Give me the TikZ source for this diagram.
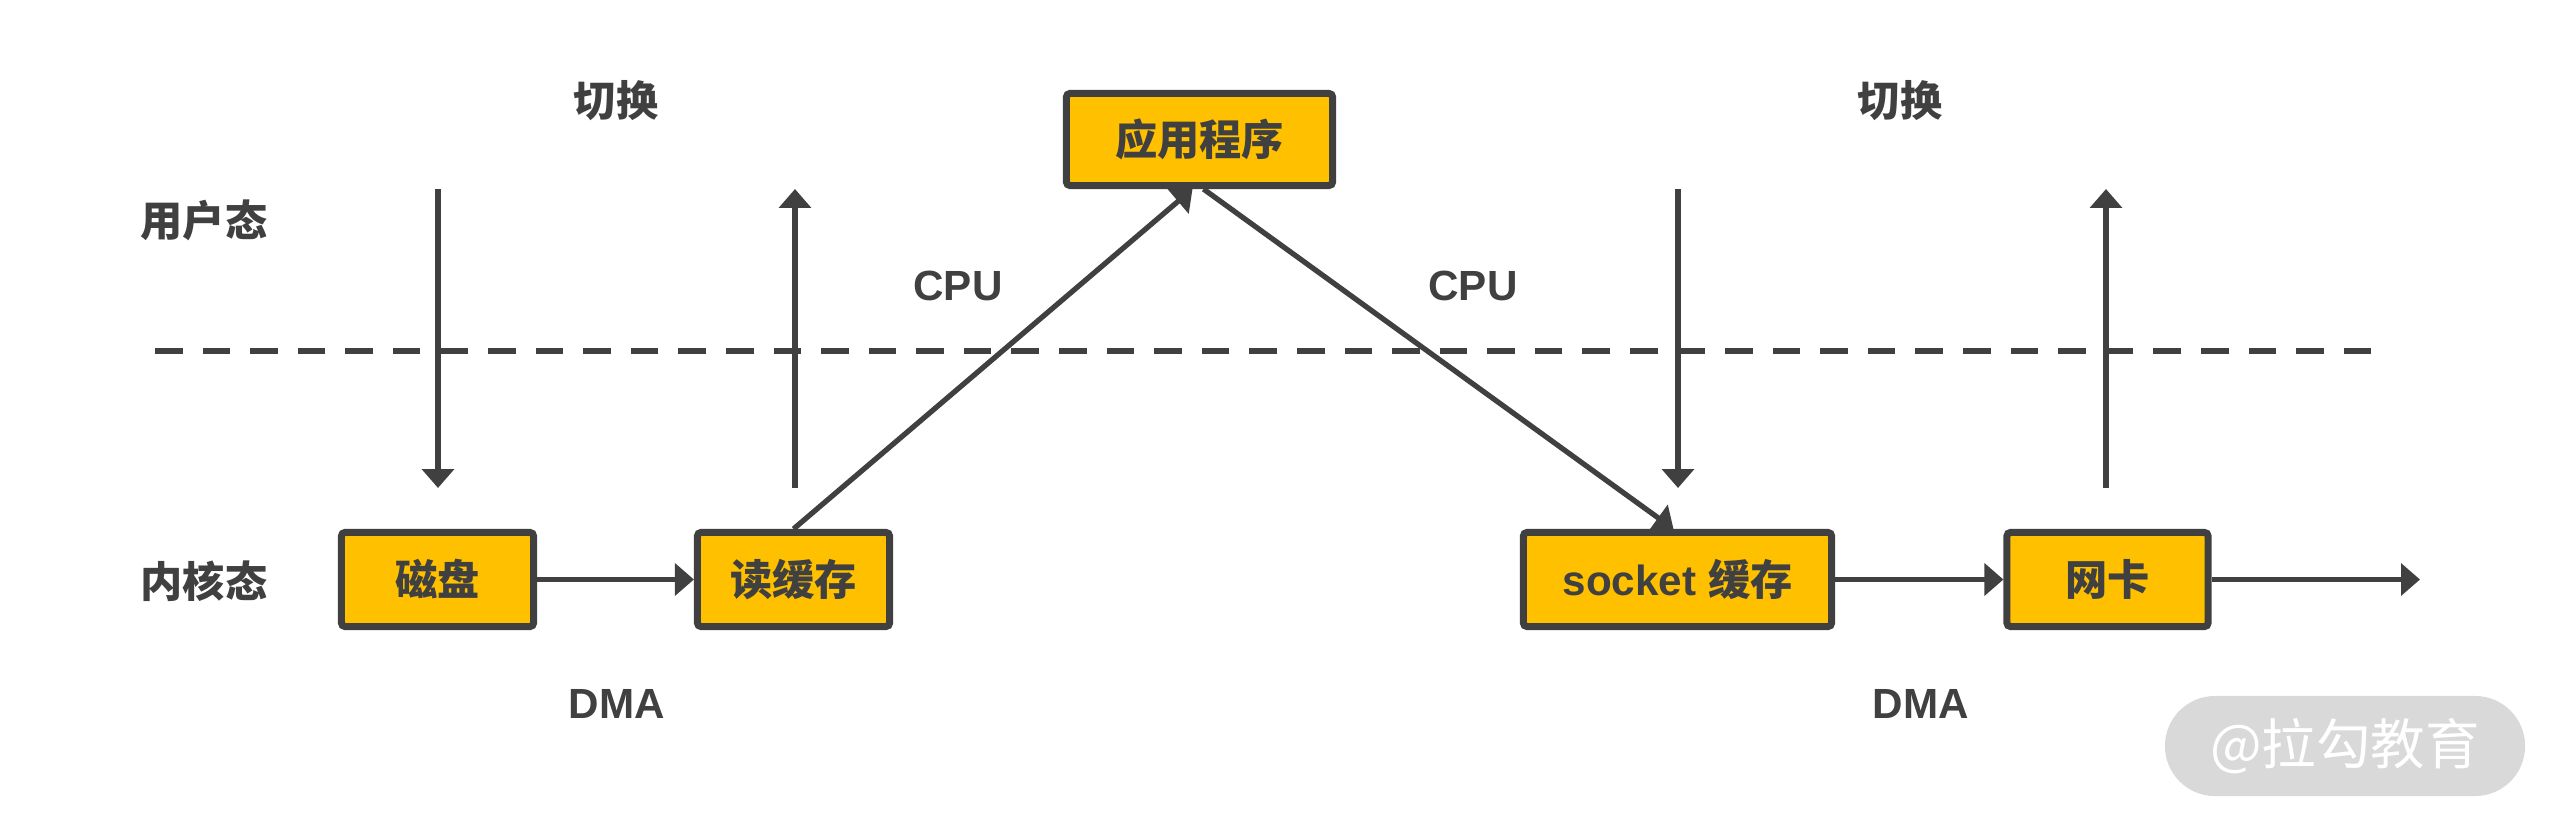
\documentclass[tikz,border=0pt]{standalone}
\usepackage{fontspec}
\setmainfont{Liberation Sans}
\newfontfamily\cjk{Noto Sans CJK SC}
\usetikzlibrary{arrows.meta,calc}
\definecolor{dk}{HTML}{404040}
\definecolor{gold}{HTML}{FFC000}
\definecolor{wmgray}{HTML}{D9D9D9}
\begin{document}
\begin{tikzpicture}[x=0.01cm,y=-0.01cm,
  box/.style={draw=dk, fill=gold, line width=2pt, rounded corners=1pt, inner sep=0pt,
    minimum height=0.94cm, text=dk, font=\cjk\bfseries\fontsize{12pt}{14pt}\selectfont},
  lbl/.style={text=dk, inner sep=0pt, font=\cjk\bfseries\fontsize{12pt}{14pt}\selectfont},
  lat/.style={text=dk, inner sep=0pt, font=\bfseries\fontsize{12pt}{14pt}\selectfont},
  conn/.style={draw=dk, line width=1.5pt, -{Triangle[length=5.4pt,width=9pt]}},
  sep/.style={draw=dk, line width=1.9pt, dash pattern=on 7.84pt off 5.69pt}]
\useasboundingbox (0,0) rectangle (2560,830);
% boxes
\node[box, minimum width=1.92cm] (disk) at (437.5,579.5) {磁盘};
\node[box, minimum width=1.92cm] (read) at (793.5,579.5) {读缓存};
\node[box, minimum width=2.66cm, minimum height=0.92cm] (app) at (1199.5,139.5) {应用程序};
\node[box, minimum width=3.08cm, font=\bfseries\fontsize{12pt}{14pt}\selectfont] (sock) at (1677.5,579.5) {socket {\cjk 缓存}};
\node[box, minimum width=2.01cm] (nic) at (2107.5,579.5) {网卡};
% labels
\node[lbl] (user) at (204,220) {用户态};
\node[lbl] (kern) at (204,581) {内核态};
\node[lbl] (sw1) at (616,101) {切换};
\node[lbl] (sw2) at (1900,101) {切换};
\node[lat] (cpu1) at (958,286) {CPU};
\node[lat] (cpu2) at (1473,286) {CPU};
\node[lat] (dma1) at (617,704) {DMA};
\node[lat] (dma2) at (1921,704) {DMA};
% dashed separator
\coordinate (sepL) at (155,351);
\coordinate (sepR) at (2371,351);
\draw[sep] (sepL) -- (sepR);
% switching arrows
\coordinate (a1t) at (438,189); \coordinate (a1b) at (438,488);
\coordinate (a2t) at (795,189); \coordinate (a2b) at (795,488);
\coordinate (a3t) at (1678,189); \coordinate (a3b) at (1678,488);
\coordinate (a4t) at (2106,189); \coordinate (a4b) at (2106,488);
\draw[conn] (a1t) -- (a1b);
\draw[conn] (a2b) -- (a2t);
\draw[conn] (a3t) -- (a3b);
\draw[conn] (a4b) -- (a4t);
% data path
\draw[conn] (disk.east) -- (read.west);
\draw[conn] (read.north) -- ($(app.south)+(-7,0)$);
\draw[conn] ($(app.south)+(4,0)$) -- ($(sock.north)+(-4,0)$);
\draw[conn] (sock.east) -- (nic.west);
\coordinate (out) at (2420,579.5);
\draw[conn] (nic.east) -- (out);
% watermark
\node[fill=wmgray, rounded corners=0.5cm, minimum width=3.6cm, minimum height=1.0cm, inner sep=0pt,
  text=white, font=\cjk\fontsize{15.5pt}{18pt}\selectfont] (wm) at (2345,746) {@拉勾教育};
\end{tikzpicture}
\end{document}
